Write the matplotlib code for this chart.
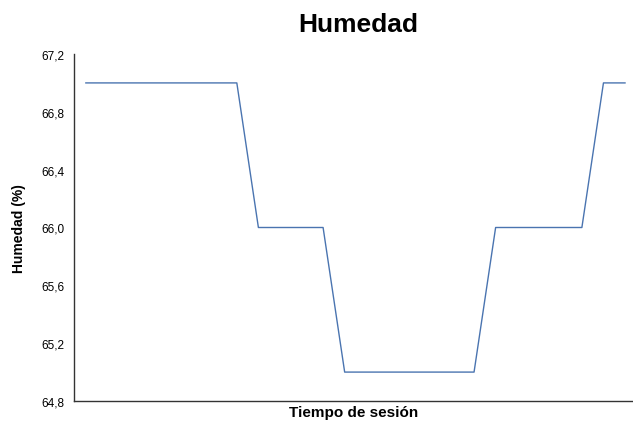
import matplotlib
matplotlib.use("Agg")
import matplotlib.pyplot as plt
from matplotlib.ticker import FuncFormatter

plt.rcParams['font.family'] = ['Liberation Sans', 'DejaVu Sans']

humedad = [67, 67, 67, 67, 67, 67, 67, 67,
           66, 66, 66, 66,
           65, 65, 65, 65, 65, 65, 65,
           66, 66, 66, 66, 66,
           67, 67]
x = list(range(len(humedad)))
yticks = [64.8, 65.2, 65.6, 66.0, 66.4, 66.8, 67.2]

fig = plt.figure(figsize=(6.33, 4.27), dpi=100)
ax = fig.add_axes([74/633, 1-402/427, 1-74/633, (402-55)/427])
ax.plot(x, humedad, color='#4a74b0', linewidth=1.0)
ax.set_xlim(-0.55, 25.37)
ax.set_ylim(64.8, 67.2)
ax.set_yticks(yticks)
ax.yaxis.set_major_formatter(FuncFormatter(lambda v, p: f"{v:.1f}".replace('.', ',')))
ax.set_xticks([])
ax.tick_params(axis='y', length=0, labelsize=8.5, pad=7)
for s in ['top', 'right']:
    ax.spines[s].set_visible(False)
for s in ['left', 'bottom']:
    ax.spines[s].set_color('#333333')
    ax.spines[s].set_linewidth(1.0)
ax.set_ylabel('Humedad (%)', fontsize=10, fontweight='bold', labelpad=11)
ax.set_xlabel('Tiempo de sesión', fontsize=11, fontweight='bold', labelpad=3)
fig.text(358/633, 1-25/427, 'Humedad', fontsize=19, fontweight='bold', ha='center', va='center')
fig.savefig('out.png', dpi=100)
